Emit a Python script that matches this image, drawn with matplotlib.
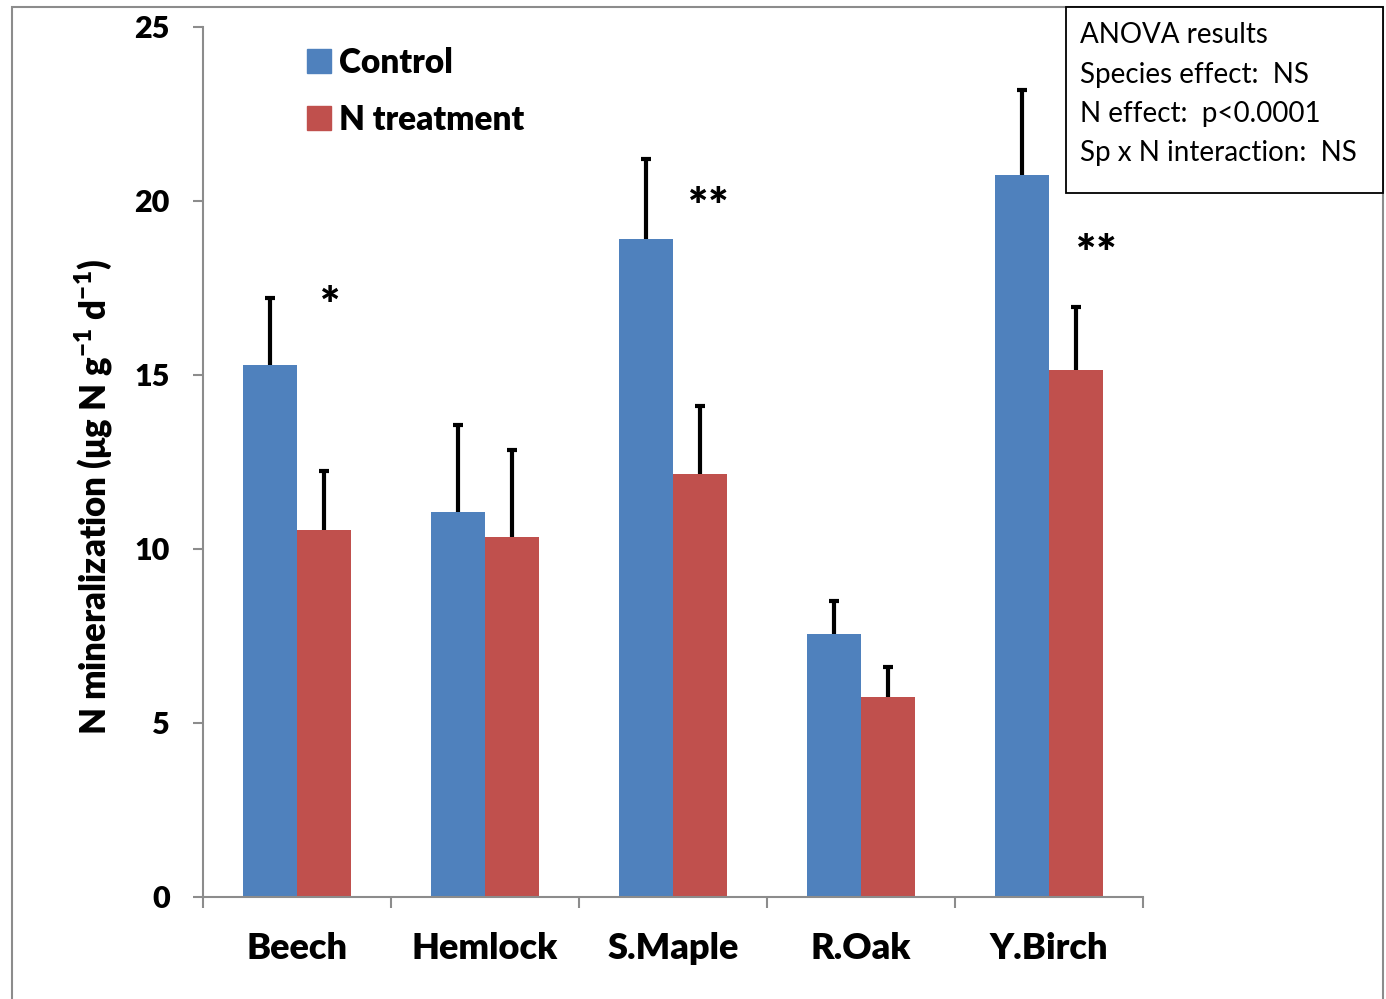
import numpy as np
import matplotlib
matplotlib.use('Agg')
import matplotlib.pyplot as plt
from matplotlib.patches import Rectangle, Patch

plt.rcParams['font.family'] = ['Lato', 'DejaVu Sans']
plt.rcParams['mathtext.fontset'] = 'custom'
plt.rcParams['mathtext.rm'] = 'Lato'
plt.rcParams['mathtext.bf'] = 'Lato:heavy'

species = ['Beech', 'Hemlock', 'S.Maple', 'R.Oak', 'Y.Birch']
control = [15.3, 11.05, 18.9, 7.55, 20.75]
control_se = [1.9, 2.5, 2.3, 0.95, 2.45]
n_treat = [10.55, 10.35, 12.15, 5.75, 15.15]
n_treat_se = [1.7, 2.5, 1.95, 0.85, 1.8]
# significance marks: (x position, label, height)
signif = [(0.175, '*', 17.3), (2.19, '**', 20.15), (4.25, '**', 18.8)]
anova_lines = ['ANOVA results', 'Species effect:  NS',
               'N effect:  p<0.0001', 'Sp x N interaction:  NS']

blue = '#4F81BD'
red = '#C0504D'
grey = '#8C8C8C'
W = 'heavy'

fig = plt.figure(figsize=(13.86, 9.99), dpi=100)
ax = fig.add_axes([203/1386, 102/999, 940/1386, 870/999])

x = np.arange(len(species))
w = 0.285

ax.bar(x - w/2, control, w, color=blue, zorder=2, label='Control')
ax.bar(x + w/2, n_treat, w, color=red, zorder=2, label='N treatment')

for xs, ys, es in [(x - w/2, control, control_se), (x + w/2, n_treat, n_treat_se)]:
    _, caps, _ = ax.errorbar(xs, ys, yerr=[np.zeros(len(es)), es], fmt='none',
                             ecolor='black', elinewidth=3, capsize=3.5,
                             capthick=3, zorder=3)
    caps[0].set_visible(False)

for xp, s, h in signif:
    ax.text(xp, h - 0.36, s, ha='center', va='center',
            fontsize=34, fontweight=W)

ax.set_xlim(-0.5, 4.5)
ax.set_ylim(0, 25)
ax.set_yticks([0, 5, 10, 15, 20, 25])
ax.set_xticks(x)
ax.set_xticklabels(species, fontsize=26, fontweight=W)
ax.set_xticks(np.arange(-0.5, 5, 1), minor=True)
ax.tick_params(axis='x', which='major', length=0, pad=25)
ax.tick_params(axis='x', which='minor', length=8, width=1.5, color=grey,
               direction='out')
ax.tick_params(axis='y', length=7, width=1.5, color=grey, pad=17,
               labelsize=22)
for lab in ax.get_yticklabels():
    lab.set_fontweight(W)

for side in ['top', 'right']:
    ax.spines[side].set_visible(False)
for side in ['left', 'bottom']:
    ax.spines[side].set_color(grey)
    ax.spines[side].set_linewidth(1.5)

ax.set_ylabel('N mineralization (μg N g$^{\\mathbf{-1}}$ d$^{\\mathbf{-1}}$)',
              fontsize=25, fontweight=W)
ax.yaxis.set_label_coords(-0.094, 0.46)

handles = [Patch(color=blue, label='Control'), Patch(color=red, label='N treatment')]
leg = ax.legend(handles=handles, loc='upper left',
                bbox_to_anchor=(277/1386, 1 - 17/999), bbox_transform=fig.transFigure,
                frameon=False, handlelength=0.72, handleheight=0.72,
                handletextpad=0.25, labelspacing=0.75,
                prop={'size': 24, 'weight': W})

# outer chart frame
fig.patches.append(Rectangle((12/1386, -0.05), (1383 - 12)/1386, 1.05 - 7/999,
                             transform=fig.transFigure, fill=False,
                             edgecolor=grey, linewidth=1.5))

# ANOVA summary box
fig.patches.append(Rectangle((1066/1386, 1 - 193/999), (1383 - 1066)/1386, 186/999,
                             transform=fig.transFigure, facecolor='white',
                             edgecolor='black', linewidth=1.3, zorder=5))
for k, line in enumerate(anova_lines):
    fig.text(1080/1386, 1 - (35 + 39.5 * k)/999, line, fontsize=20,
             va='center', ha='left', zorder=6)

fig.savefig('out.png', dpi=100)
